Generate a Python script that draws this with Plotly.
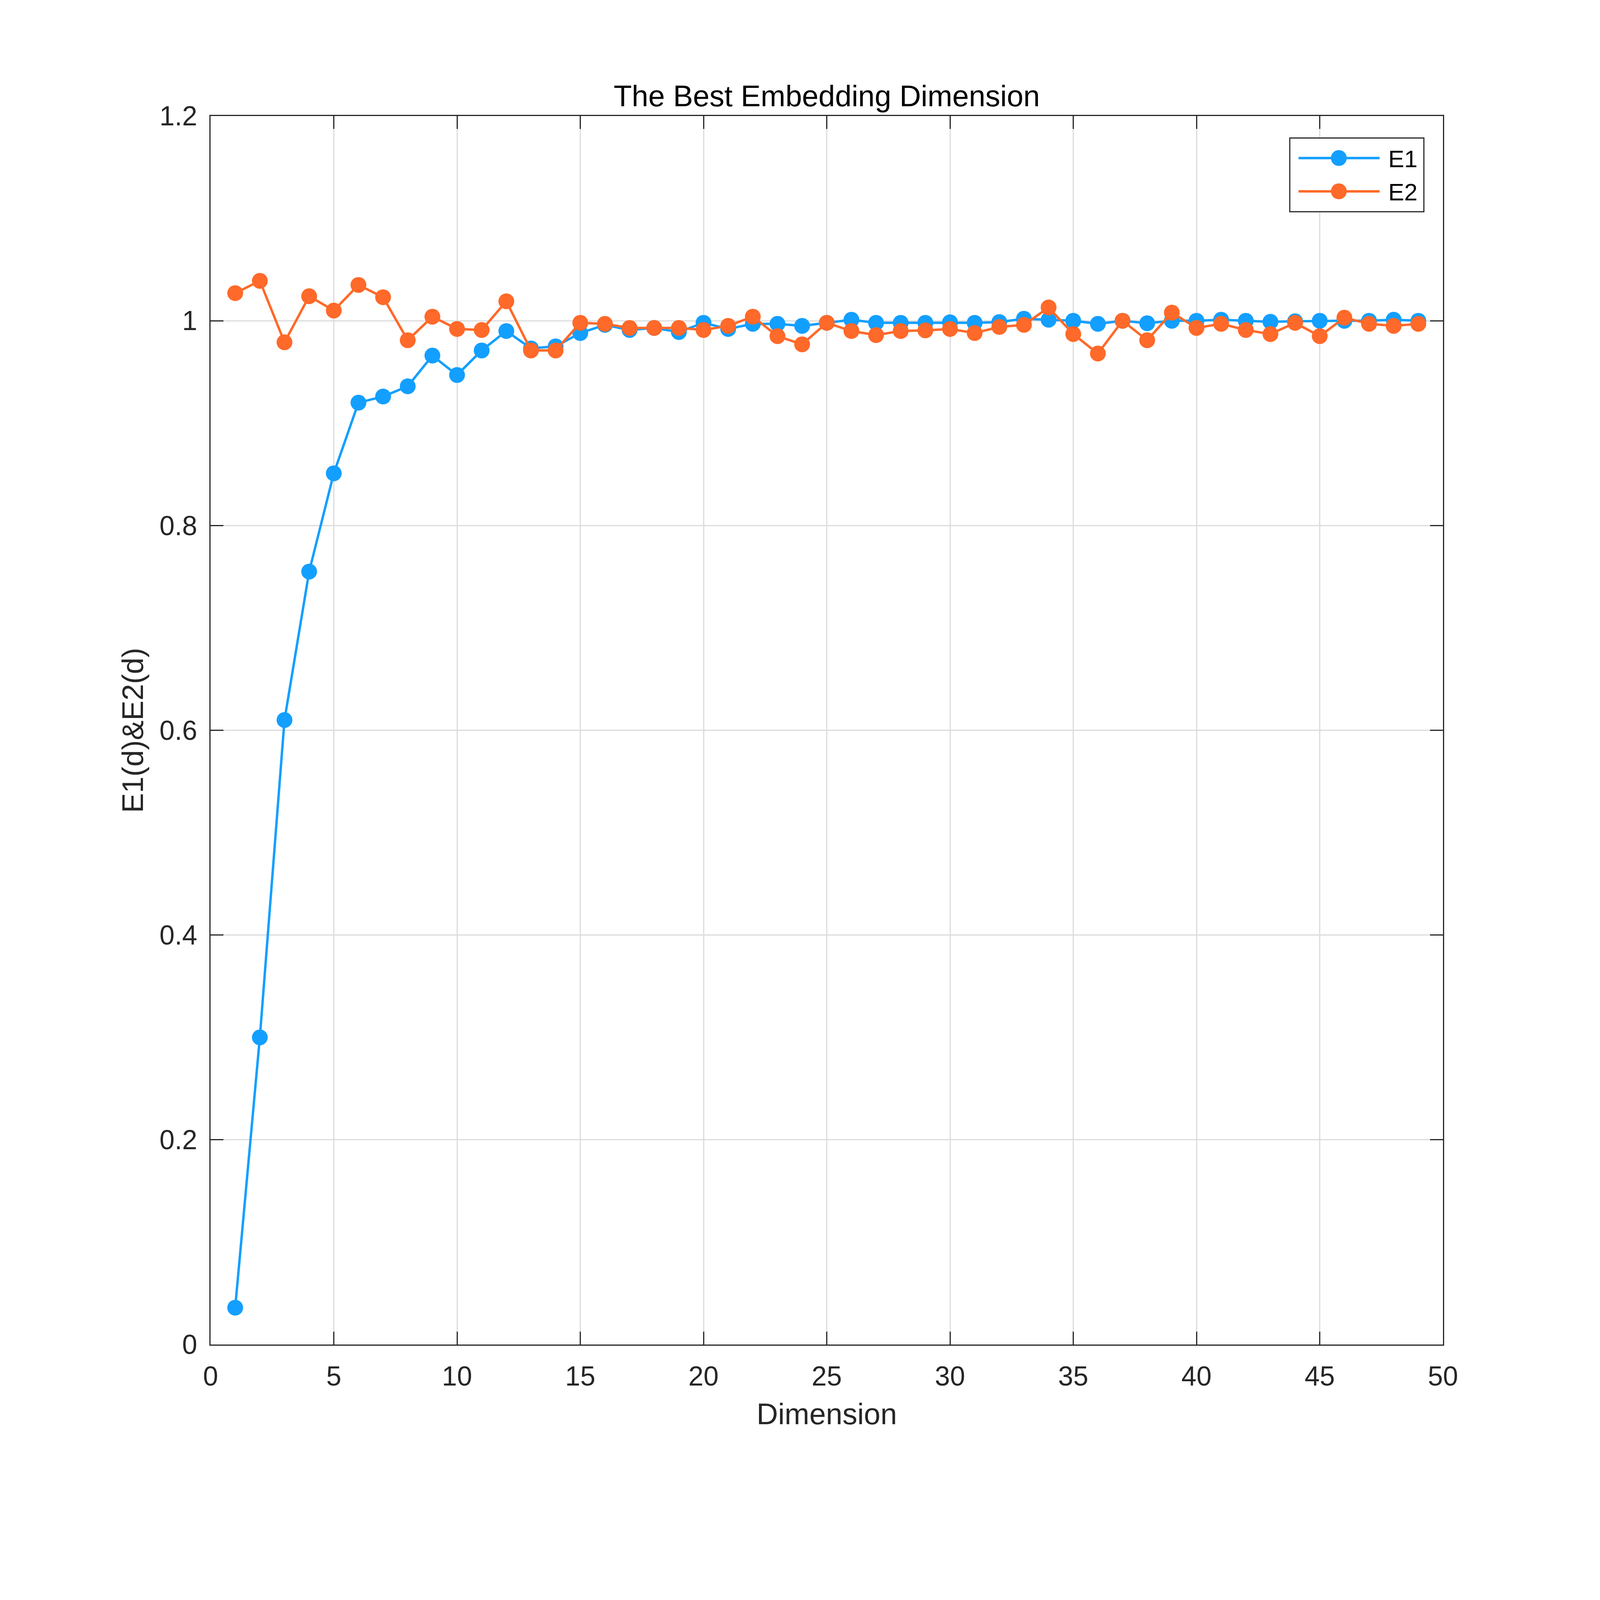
"""Best embedding dimension: E1(d) and E2(d) curves (Cao's method)."""
import plotly.graph_objects as go

dims = list(range(1, 50))

e1 = [0.036, 0.300, 0.610, 0.755, 0.851, 0.920, 0.926, 0.936, 0.966, 0.947,
      0.971, 0.990, 0.973, 0.975, 0.988, 0.996, 0.991, 0.993, 0.989, 0.998,
      0.992, 0.997, 0.997, 0.995, 0.998, 1.001, 0.998, 0.998, 0.998, 0.9985,
      0.998, 0.9987, 1.002, 1.001, 1.000, 0.997, 1.000, 0.9976, 1.000, 1.000,
      1.001, 1.000, 0.999, 0.9995, 1.000, 1.000, 1.000, 1.001, 1.000]

e2 = [1.027, 1.039, 0.979, 1.024, 1.010, 1.035, 1.023, 0.981, 1.004, 0.992,
      0.991, 1.019, 0.971, 0.971, 0.998, 0.997, 0.993, 0.993, 0.993, 0.991,
      0.995, 1.004, 0.985, 0.977, 0.998, 0.990, 0.986, 0.990, 0.9906, 0.992,
      0.988, 0.994, 0.996, 1.013, 0.987, 0.968, 1.000, 0.981, 1.008, 0.993,
      0.997, 0.991, 0.987, 0.998, 0.985, 1.003, 0.997, 0.995, 0.997]

series_names = ['E1', 'E2']
x_ticks = list(range(0, 51, 5))
y_ticks = [0, 0.2, 0.4, 0.6, 0.8, 1.0, 1.2]
y_labels = ['0', '0.2', '0.4', '0.6', '0.8', '1', '1.2']

BLUE = '#139FFF'
ORANGE = '#FF6929'
INK = '#262626'
FONT = 'Liberation Sans, Arial, sans-serif'

# the page is shown in a 4096 px wide window, so the 4931x4663 layout is scaled down
S = 4080 / 4931


def px(v):
    return round(v * S, 1)


def ipx(v):
    return int(round(v * S))


fig = go.Figure()
for name, ys, col in zip(series_names, [e1, e2], [BLUE, ORANGE]):
    fig.add_trace(go.Scatter(x=dims, y=ys, mode='lines+markers', name=name,
                             line=dict(color=col, width=px(7.5)),
                             marker=dict(color=col, size=px(49), line=dict(width=0)),
                             showlegend=False))

# MATLAB-style legend box (plotly's own legend keeps its line samples tiny)
fig.add_shape(type='rect', xref='paper', yref='paper',
              x0=0.8757, x1=0.9845, y0=0.9221, y1=0.9821,
              line=dict(color=INK, width=px(3.5)), fillcolor='white', layer='above')
for name, col, ly in zip(series_names, [BLUE, ORANGE], [0.9658, 0.9387]):
    fig.add_shape(type='line', xref='paper', yref='paper', x0=0.8828, x1=0.9486,
                  y0=ly, y1=ly, line=dict(color=col, width=px(7.5)), layer='above')
    fig.add_shape(type='circle', xref='paper', yref='paper',
                  xsizemode='pixel', ysizemode='pixel', xanchor=0.9155, yanchor=ly,
                  x0=-px(24.5), x1=px(24.5), y0=-px(24.5), y1=px(24.5),
                  fillcolor=col, line=dict(width=0), layer='above')
    fig.add_annotation(text=name, xref='paper', yref='paper', x=0.9549, y=ly - 0.0008,
                       xanchor='left', yanchor='middle', showarrow=False,
                       font=dict(family=FONT, size=px(74), color='black'))

axis_common = dict(showline=True, linecolor=INK, linewidth=px(4), mirror='ticks',
                   ticks='inside', ticklen=ipx(40), tickwidth=px(3.5), tickcolor=INK,
                   showgrid=True, gridcolor='#dcdcdc', gridwidth=px(3),
                   zeroline=False, tickfont=dict(family=FONT, size=px(84), color=INK))

fig.update_layout(
    width=ipx(4931), height=ipx(4663), autosize=False,
    margin=dict(l=ipx(642), r=ipx(476), t=ipx(349), b=ipx(513), pad=0),
    paper_bgcolor='white', plot_bgcolor='white',
    font=dict(family=FONT, color=INK),
    title=dict(text='The Best Embedding Dimension', x=0.5, xanchor='center',
               xref='paper', yref='paper', y=1, yanchor='bottom',
               pad=dict(b=ipx(30)), font=dict(family=FONT, size=px(92), color='black')),
    xaxis=dict(range=[0, 50], tickvals=x_ticks, ticklabelstandoff=ipx(22),
               title=dict(text='Dimension', standoff=ipx(40),
                          font=dict(family=FONT, size=px(92), color=INK)),
               **axis_common),
    yaxis=dict(range=[0, 1.2], tickvals=y_ticks, ticktext=y_labels,
               ticklabelstandoff=ipx(20),
               title=dict(text='E1(d)&E2(d)', standoff=ipx(20),
                          font=dict(family=FONT, size=px(92), color=INK)),
               **axis_common),
    showlegend=False,
)

fig.write_html('out.html')
